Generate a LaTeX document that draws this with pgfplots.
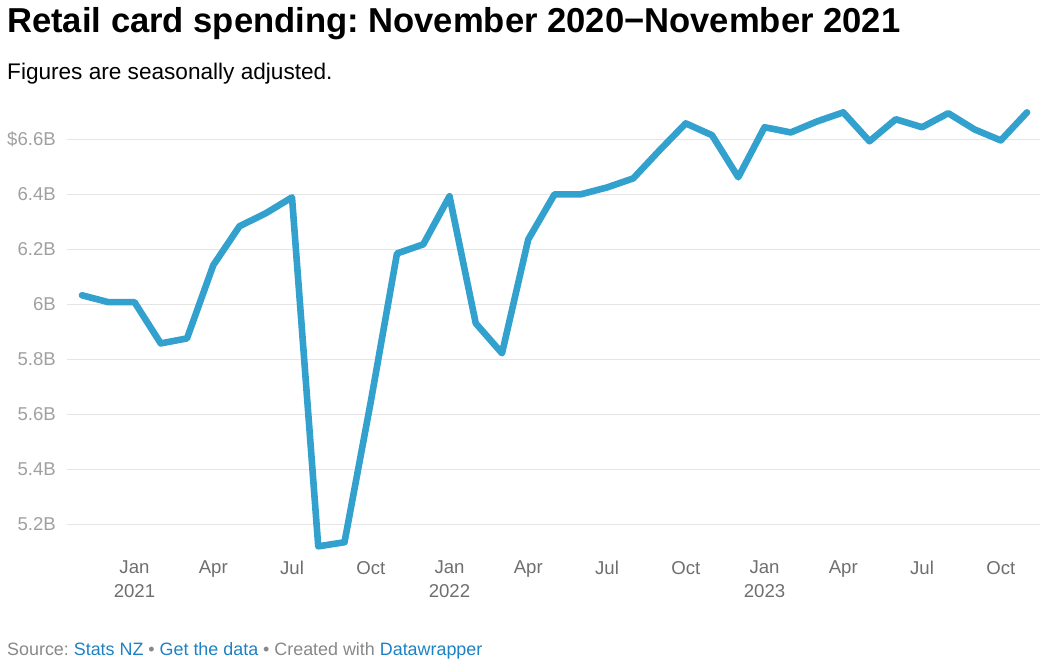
\documentclass[border=0pt]{standalone}
\usepackage{fontspec}
\setmainfont{Liberation Sans}
\usepackage{pgfplots}
\pgfplotsset{compat=1.18}
\frenchspacing
\definecolor{lineblue}{RGB}{51,161,206}
\definecolor{gridgray}{RGB}{229,229,229}
\definecolor{ylab}{RGB}{160,160,160}
\definecolor{xlab}{RGB}{110,110,110}
\definecolor{srcgray}{RGB}{136,136,136}
\definecolor{linkblue}{RGB}{29,129,196}
\begin{document}
\begin{tikzpicture}[x=1pt,y=1pt]
\path[use as bounding box] (0,0) rectangle (1040,664);
\node[anchor=base west, inner sep=0pt] at (7,631) {\fontsize{34.6}{40}\selectfont\bfseries Retail card spending: November 2020−November 2021};
\node[anchor=base west, inner sep=0pt] at (7,584) {\fontsize{22.6}{26}\selectfont Figures are seasonally adjusted.};
\node[anchor=base west, inner sep=0pt] at (7,9) {\fontsize{17.9}{20}\selectfont\color{srcgray}Source: \textcolor{linkblue}{Stats NZ} • \textcolor{linkblue}{Get the data} • Created with \textcolor{linkblue}{Datawrapper}};
\begin{axis}[
  at={(67pt,116pt)}, anchor=south west,
  scale only axis, width=973pt, height=448pt,
  xmin=-0.571, xmax=36.495, ymin=5.114, ymax=6.743,
  clip=false,
  axis line style={draw=none},
  major tick length=0pt,
  ymajorgrids, grid style={gridgray, line width=1pt},
  ytick={5.2,5.4,5.6,5.8,6.0,6.2,6.4,6.6},
  yticklabels={5.2B,5.4B,5.6B,5.8B,6B,6.2B,6.4B,\$6.6B},
  yticklabel style={inner sep=0pt, xshift=-11pt, font=\fontsize{18.6}{20}\selectfont, text=ylab},
  xtick={2,5,8,11,14,17,20,23,26,29,32,35},
  xticklabels={{Jan\\2021},Apr,Jul,Oct,{Jan\\2022},Apr,Jul,Oct,{Jan\\2023},Apr,Jul,Oct},
  xticklabel style={align=center, inner sep=0pt, yshift=-13pt, font=\fontsize{18.6}{24}\selectfont, text=xlab},
]
\addplot[lineblue, line width=6.6pt, line join=round, line cap=round] coordinates {
(0,6.033) (1,6.008) (2,6.008) (3,5.858) (4,5.876) (5,6.142) (6,6.284) (7,6.331)
(8,6.389) (9,5.120) (10,5.135) (11,5.645) (12,6.185) (13,6.218) (14,6.393) (15,5.931)
(16,5.822) (17,6.236) (18,6.400) (19,6.400) (20,6.425) (21,6.458) (22,6.560) (23,6.658)
(24,6.615) (25,6.462) (26,6.644) (27,6.625) (28,6.665) (29,6.698) (30,6.593) (31,6.673)
(32,6.644) (33,6.695) (34,6.636) (35,6.596) (36,6.698)
};
\end{axis}
\end{tikzpicture}
\end{document}
